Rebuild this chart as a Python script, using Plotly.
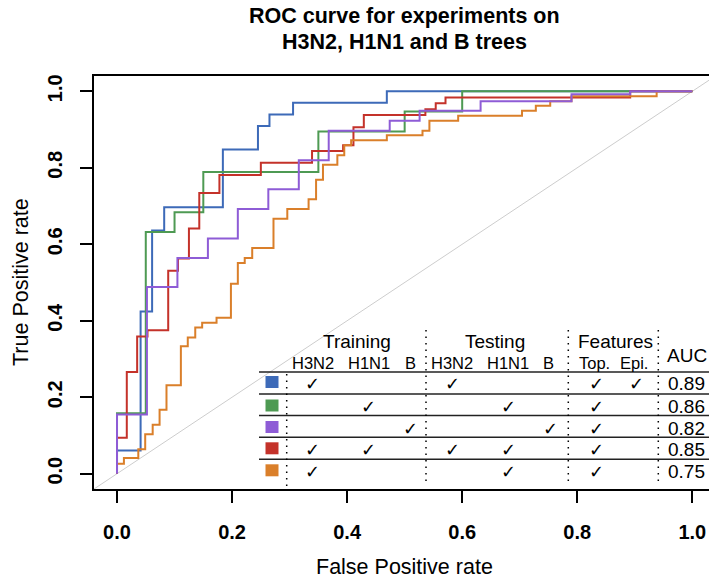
import plotly.graph_objects as go

# ---------------- data ----------------
# ROC step curves: (FPR, TPR) at the top of every vertical step
blue_fpr = [0, 0, 0.041, 0.061, 0.082, 0.184, 0.245, 0.265, 0.306, 0.469, 1.0]
blue_tpr = [0, 0.061, 0.424, 0.636, 0.697, 0.848, 0.909, 0.939, 0.970, 1.0, 1.0]

green_fpr = [0, 0, 0.05, 0.10, 0.15, 0.35, 0.50, 0.60, 1.0]
green_tpr = [0, 0.158, 0.632, 0.684, 0.789, 0.895, 0.947, 1.0, 1.0]

purple_fpr = [0, 0, 0.052, 0.105, 0.158, 0.210, 0.263, 0.316, 0.368, 0.474,
              0.526, 0.632, 0.790, 0.892, 1.0]
purple_tpr = [0, 0.155, 0.488, 0.564, 0.615, 0.692, 0.744, 0.820, 0.897, 0.923,
              0.949, 0.974, 0.992, 1.0, 1.0]

red_fpr = [0, 0, 0.017, 0.035, 0.053, 0.089, 0.106, 0.125, 0.143, 0.178, 0.250,
           0.339, 0.393, 0.411, 0.429, 0.536, 0.554, 0.571, 0.892, 1.0]
red_tpr = [0, 0.094, 0.266, 0.359, 0.375, 0.531, 0.563, 0.641, 0.734, 0.781, 0.813,
           0.844, 0.859, 0.906, 0.938, 0.953, 0.969, 0.984, 1.0, 1.0]

orange_fpr = [0, 0, 0.012, 0.037, 0.049, 0.062, 0.074, 0.086, 0.111, 0.123, 0.136,
              0.148, 0.173, 0.198, 0.210, 0.222, 0.235, 0.272, 0.296, 0.333, 0.346,
              0.358, 0.383, 0.395, 0.407, 0.469, 0.531, 0.543, 0.593, 0.704, 0.728,
              0.753, 0.790, 0.938, 1.0]
orange_tpr = [0, 0.026, 0.041, 0.064, 0.103, 0.128, 0.167, 0.231, 0.333, 0.356, 0.382,
              0.395, 0.408, 0.497, 0.551, 0.564, 0.590, 0.667, 0.692, 0.718, 0.769,
              0.808, 0.833, 0.859, 0.872, 0.885, 0.897, 0.923, 0.936, 0.949, 0.962,
              0.974, 0.987, 1.0, 1.0]

series_colors = ["#3D6AB8", "#4E9A53", "#8E5CD6", "#C4322A", "#DA7F2A"]

x_ticks = [0, 0.2, 0.4, 0.6, 0.8, 1.0]
tick_labels = ["0.0", "0.2", "0.4", "0.6", "0.8", "1.0"]

group_headers = ["Training", "Testing", "Features"]
sub_headers = ["H3N2", "H1N1", "B", "H3N2", "H1N1", "B", "Top.", "Epi."]
checks = [
    [1, 0, 0, 1, 0, 0, 1, 1],
    [0, 1, 0, 0, 1, 0, 1, 0],
    [0, 0, 1, 0, 0, 1, 1, 0],
    [1, 1, 0, 1, 1, 0, 1, 0],
    [1, 0, 0, 0, 1, 0, 1, 0],
]
auc_values = ["0.89", "0.86", "0.82", "0.85", "0.75"]

# ---------------- figure ----------------
W, H = 709, 584
ML, MR, MT, MB = 94, 0, 76, 95
PW, PH = W - ML - MR, H - MT - MB


def PX(px):
    return (px - ML) / PW


def PY(py):
    return (H - MB - py) / PH


FONT = "Liberation Sans, Arial, Helvetica, sans-serif"

fig = go.Figure()

# diagonal reference
fig.add_trace(go.Scatter(x=[-0.1, 1.1], y=[-0.1, 1.1], mode="lines",
                         line=dict(color="#CDCDCD", width=1), hoverinfo="skip",
                         showlegend=False))

curves = [(blue_fpr, blue_tpr, 0), (green_fpr, green_tpr, 1), (red_fpr, red_tpr, 3),
          (orange_fpr, orange_tpr, 4), (purple_fpr, purple_tpr, 2)]
for fx, ty, ci in curves:
    fig.add_trace(go.Scatter(x=fx, y=ty, mode="lines", line_shape="hv",
                             line=dict(color=series_colors[ci], width=2),
                             showlegend=False))

shapes = []
annotations = []

# title
annotations.append(dict(text="<b>ROC curve for experiments on</b>", x=PX(404.5), y=PY(16),
                        xref="paper", yref="paper", showarrow=False,
                        font=dict(family=FONT, size=21.5, color="black"),
                        xanchor="center", yanchor="middle"))
annotations.append(dict(text="<b>H3N2, H1N1 and B trees</b>", x=PX(404.5), y=PY(42),
                        xref="paper", yref="paper", showarrow=False,
                        font=dict(family=FONT, size=21.5, color="black"),
                        xanchor="center", yanchor="middle"))
# axis titles
annotations.append(dict(text="False Positive rate", x=PX(404.5), y=PY(567),
                        xref="paper", yref="paper", showarrow=False,
                        font=dict(family=FONT, size=21.5, color="black"),
                        xanchor="center", yanchor="middle"))
annotations.append(dict(text="True Positive rate", x=PX(21), y=PY(282),
                        xref="paper", yref="paper", showarrow=False, textangle=-90,
                        font=dict(family=FONT, size=21.5, color="black"),
                        xanchor="center", yanchor="middle"))

# ---------------- table ----------------
line_ys = [372, 394, 415.5, 437.3, 459.3]
row_ys = [382, 405.5, 427, 448.3, 470.3]
for ly in line_ys:
    shapes.append(dict(type="line", xref="paper", yref="paper", x0=PX(259), x1=1.0,
                       y0=PY(ly), y1=PY(ly), line=dict(color="#222222", width=1.5)))

for sx, top in [(286.7, 374), (426, 330), (568.3, 330), (658.3, 330)]:
    shapes.append(dict(type="line", xref="paper", yref="paper", x0=PX(sx), x1=PX(sx),
                       y0=PY(top), y1=PY(486), line=dict(color="black", width=1.5,
                                                          dash="1.5px,5px")))

for ci, ry in enumerate(row_ys):
    shapes.append(dict(type="rect", xref="paper", yref="paper", x0=PX(265.5), x1=PX(278.5),
                       y0=PY(ry - 6), y1=PY(ry + 6), fillcolor=series_colors[ci],
                       line=dict(width=0)))

group_x = [356.7, 495, 615]
for gx, txt in zip(group_x, group_headers):
    annotations.append(dict(text=txt, x=PX(gx), y=PY(341.5), xref="paper", yref="paper",
                            showarrow=False, font=dict(family=FONT, size=19, color="black"),
                            xanchor="center", yanchor="middle", borderpad=0))
sub_x = [313.3, 368.8, 410, 452.2, 507.5, 548.3, 594.7, 634.2]
check_x = [312, 368.5, 410.5, 452, 508, 550, 596.5, 636.5]
for sx, txt in zip(sub_x, sub_headers):
    annotations.append(dict(text=txt, x=PX(sx), y=PY(363), xref="paper", yref="paper",
                            showarrow=False, font=dict(family=FONT, size=16.5, color="black"),
                            xanchor="center", yanchor="middle", borderpad=0))
annotations.append(dict(text="AUC", x=PX(686.5), y=PY(355), xref="paper", yref="paper",
                        showarrow=False, font=dict(family=FONT, size=19, color="black"),
                        xanchor="center", yanchor="middle", borderpad=0))

for ri, row in enumerate(checks):
    for cj, v in enumerate(row):
        if v:
            annotations.append(dict(text="\u2713", x=PX(check_x[cj]), y=PY(row_ys[ri] + 1),
                                    xref="paper", yref="paper", showarrow=False,
                                    font=dict(family="DejaVu Sans", size=18, color="black"),
                                    xanchor="center", yanchor="middle", borderpad=0))
    annotations.append(dict(text=auc_values[ri], x=PX(686.5), y=PY(row_ys[ri] + 1),
                            xref="paper", yref="paper", showarrow=False,
                            font=dict(family=FONT, size=19, color="black"),
                            xanchor="center", yanchor="middle", borderpad=0))

fig.update_layout(
    width=W, height=H,
    margin=dict(l=ML, r=MR, t=MT, b=MB, pad=0),
    paper_bgcolor="white", plot_bgcolor="white",
    showlegend=False,
    shapes=shapes, annotations=annotations,
    xaxis=dict(range=[-0.04, 1.029], tickvals=x_ticks, ticktext=tick_labels,
               showline=True, mirror=True, linecolor="black", linewidth=2,
               ticks="outside", ticklen=12, tickwidth=2, tickcolor="black",
               showgrid=False, zeroline=False, ticklabelstandoff=12,
               tickfont=dict(family=FONT, size=20, color="black", weight="bold")),
    yaxis=dict(range=[-0.04, 1.04], tickvals=x_ticks, ticktext=tick_labels,
               showline=True, mirror=False, linecolor="black", linewidth=2,
               ticks="outside", ticklen=12, tickwidth=2, tickcolor="black",
               showgrid=False, zeroline=False, tickangle=-90, ticklabelstandoff=10,
               tickfont=dict(family=FONT, size=20, color="black", weight="bold")),
)

fig.write_html("out.html", config={"displayModeBar": False},
               post_script="document.body.style.margin='0';")
